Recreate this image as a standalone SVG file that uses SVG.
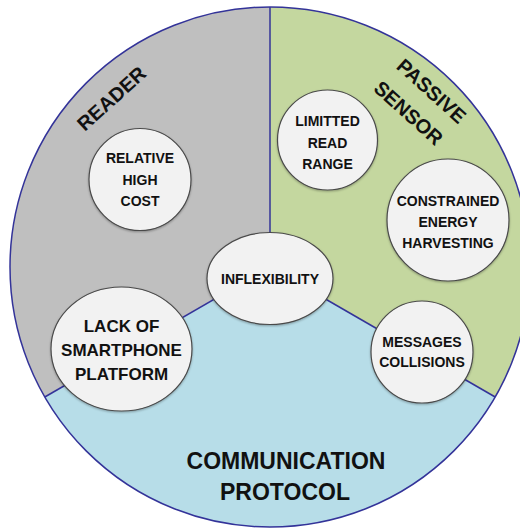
<svg xmlns="http://www.w3.org/2000/svg" width="520" height="529" viewBox="0 0 520 529">
<defs>
<style>
.sec{stroke:none}
.div{stroke:#333399;stroke-width:1.5;fill:none}
.node{fill:#F2F2F2;stroke:#4a4a4a;stroke-width:1.2;filter:url(#sh)}
.t{font-family:"Liberation Sans",Arial,sans-serif;font-weight:bold;fill:#111;text-anchor:middle}
.s14{font-size:14px}
.s17{font-size:17px}
.big{font-size:23px}
.lab{font-size:20px}
</style>
<filter id="sh" x="-10%" y="-10%" width="120%" height="125%">
<feDropShadow dx="0" dy="1" stdDeviation="0.8" flood-color="#000" flood-opacity="0.3"/>
</filter>
</defs>
<g id="sectors">
<path class="sec" fill="#BFBFBF" d="M270,267 L270,7 A260,260 0 0 0 44.8,397 Z"/>
<path class="sec" fill="#C4D79F" d="M270,267 L270,7 A260,260 0 0 1 495.2,397 Z"/>
<path class="sec" fill="#B7DDE8" d="M270,267 L495.2,397 A260,260 0 0 1 44.8,397 Z"/>
</g>
<g id="connectors">
<circle class="div" cx="270" cy="267" r="260"/>
<line class="div" x1="270" y1="7" x2="270" y2="267"/>
<line class="div" x1="270" y1="267" x2="44.8" y2="397"/>
<line class="div" x1="270" y1="267" x2="495.2" y2="397"/>
</g>
<g id="label-reader" transform="translate(111.5,98.5) rotate(-42)">
<text class="t lab" x="0" y="7">READER</text>
</g>
<g id="label-passive-sensor" transform="translate(431.5,91) rotate(42)">
<text class="t lab" x="0" y="7">PASSIVE</text>
<text class="t lab" x="-2.4" y="38.7">SENSOR</text>
</g>
<g id="label-communication-protocol">
<text class="t big" x="286" y="469">COMMUNICATION</text>
<text class="t big" x="285" y="500">PROTOCOL</text>
</g>
<g id="node-relative-high-cost">
<circle class="node" cx="140" cy="179.5" r="51"/>
<text class="t s14" x="140" y="163">RELATIVE</text>
<text class="t s14" x="140" y="185">HIGH</text>
<text class="t s14" x="140" y="206">COST</text>
</g>
<g id="node-limitted-read-range">
<circle class="node" cx="327.5" cy="140" r="50"/>
<text class="t s14" x="327.5" y="126">LIMITTED</text>
<text class="t s14" x="327.5" y="148">READ</text>
<text class="t s14" x="327.5" y="169">RANGE</text>
</g>
<g id="node-constrained-energy-harvesting">
<circle class="node" cx="448" cy="220" r="61"/>
<text class="t s14" x="448" y="206">CONSTRAINED</text>
<text class="t s14" x="448" y="227">ENERGY</text>
<text class="t s14" x="448" y="248">HARVESTING</text>
</g>
<g id="node-inflexibility">
<ellipse class="node" cx="270" cy="278.5" rx="63" ry="46"/>
<text class="t s14" x="270" y="284">INFLEXIBILITY</text>
</g>
<g id="node-lack-of-smartphone-platform">
<ellipse class="node" cx="121.5" cy="349" rx="70.5" ry="62"/>
<text class="t s17" x="121.5" y="332">LACK OF</text>
<text class="t s17" x="121.5" y="356">SMARTPHONE</text>
<text class="t s17" x="121.5" y="380">PLATFORM</text>
</g>
<g id="node-messages-collisions">
<circle class="node" cx="422" cy="352" r="51"/>
<text class="t s14" x="422" y="347">MESSAGES</text>
<text class="t s14" x="422" y="367">COLLISIONS</text>
</g>
</svg>
